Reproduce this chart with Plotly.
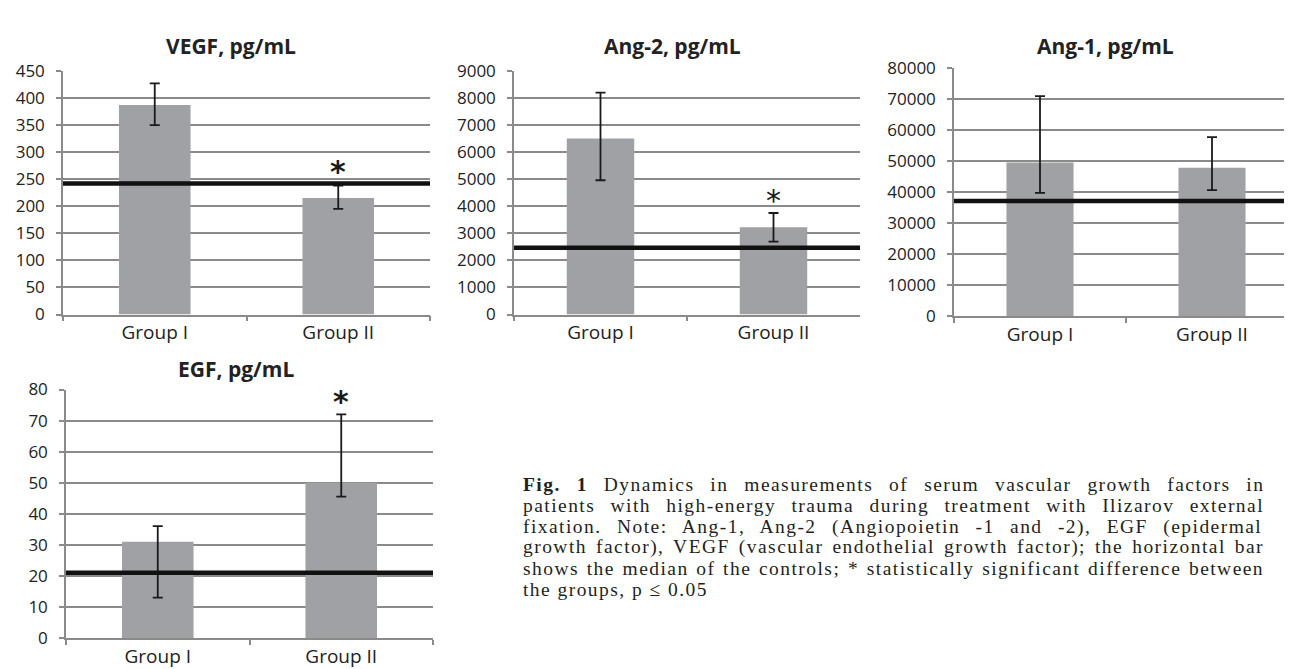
import plotly.graph_objects as go

W, H = 1292, 669

# ---------------- data ----------------
categories = ["Group I", "Group II"]

vegf_values = [387, 215]
vegf_upper = [427, 238]
vegf_lower = [350, 195]
vegf_median = 242

ang2_values = [6500, 3220]
ang2_upper = [8200, 3750]
ang2_lower = [4960, 2690]
ang2_median = 2470

ang1_values = [49600, 47900]
ang1_upper = [71000, 57800]
ang1_lower = [39800, 40700]
ang1_median = 37200

egf_values = [31, 50]
egf_upper = [36, 72]
egf_lower = [13, 45.5]
egf_median = 21

titles = ["VEGF, pg/mL", "Ang-2, pg/mL", "Ang-1, pg/mL", "EGF, pg/mL"]
y_ranges = [[0, 450], [0, 9000], [0, 80000], [0, 80]]
y_dticks = [50, 1000, 10000, 10]
# significance marks: (category, y-position of the asterisk)
asterisks = [("Group II", 276), ("Group II", 4450), None, ("Group II", 78)]

caption_lines = [
    "<b>Fig. 1</b> Dynamics in measurements of serum vascular growth factors in",
    "patients with high-energy trauma during treatment with Ilizarov external",
    "fixation. Note: Ang-1, Ang-2 (Angiopoietin -1 and -2), EGF (epidermal",
    "growth factor), VEGF (vascular endothelial growth factor); the horizontal bar",
    "shows the median of the controls; * statistically significant difference between",
    "the groups, p \u2264 0.05",
]

panels = [
    (vegf_values, vegf_upper, vegf_lower, vegf_median),
    (ang2_values, ang2_upper, ang2_lower, ang2_median),
    (ang1_values, ang1_upper, ang1_lower, ang1_median),
    (egf_values, egf_upper, egf_lower, egf_median),
]

# ---------------- layout geometry (pixels) ----------------
boxes = [  # x0, x1, ytop, ybottom
    (55, 422, 52.7, 305),
    (506, 852, 52.7, 305),
    (946, 1290, 50, 306.7),
    (58, 425, 382.7, 640),
]
title_pos = [(223, 27), (664, 27), (1097, 27), (228, 361)]

def px(x):
    return x / W

def py(y):
    return 1 - y / H

BAR = "#a0a1a5"
GRID = "#8a8a8a"
TXT = "#222222"

fig = go.Figure()
layout = dict(
    width=W, height=H, margin=dict(l=0, r=0, t=0, b=0),
    paper_bgcolor="white", plot_bgcolor="white", showlegend=False,
    shapes=[], annotations=[],
)

for i, ((vals, up, lo, med), box) in enumerate(zip(panels, boxes)):
    n = "" if i == 0 else str(i + 1)
    xa, ya = "x" + n, "y" + n
    fig.add_trace(go.Bar(
        x=categories, y=vals, xaxis=xa, yaxis=ya, width=0.39,
        marker=dict(color=BAR, line=dict(width=0)),
        error_y=dict(type="data", symmetric=False,
                     array=[u - v for u, v in zip(up, vals)],
                     arrayminus=[v - l for v, l in zip(vals, lo)],
                     color="#1a1a1a", thickness=1.8, width=5),
        hoverinfo="skip",
    ))
    x0, x1, yt, yb = box
    layout["xaxis" + n] = dict(
        domain=[px(x0), px(x1)], anchor=ya, type="category",
        range=[-0.5, 1.5], showline=True, linecolor=GRID, linewidth=1.5,
        ticks="outside", tickson="boundaries", ticklen=5, tickcolor=GRID,
        tickwidth=1.5, showgrid=False, zeroline=False,
        tickfont=dict(family="Open Sans", size=19, color=TXT),
        fixedrange=True,
    )
    layout["yaxis" + n] = dict(
        domain=[py(yb), py(yt)], anchor=xa, range=y_ranges[i],
        dtick=y_dticks[i], tick0=0, tickformat="d",
        showline=True, linecolor=GRID, linewidth=1.5,
        ticks="outside", ticklen=5, tickcolor=GRID, tickwidth=1.5,
        showgrid=True, gridcolor=GRID, gridwidth=1.5, zeroline=False,
        tickfont=dict(family="Open Sans", size=17, color=TXT),
        ticklabelstandoff=8, fixedrange=True,
    )
    # median of controls
    layout["shapes"].append(dict(
        type="line", xref=xa + " domain", yref=ya, x0=0, x1=1, y0=med, y1=med,
        line=dict(color="#111111", width=4.5), layer="above",
    ))
    # title
    tx, ty = title_pos[i]
    layout["annotations"].append(dict(
        xref="paper", yref="paper", x=px(tx), y=py(ty), xanchor="center",
        yanchor="middle", showarrow=False, text="<b>" + titles[i] + "</b>",
        font=dict(family="Open Sans", size=21, color=TXT),
    ))
    if asterisks[i] is not None:
        cat, yv = asterisks[i]
        bold = i != 1
        layout["annotations"].append(dict(
            xref=xa, yref=ya, x=cat, y=yv, xanchor="center", yanchor="middle",
            showarrow=False, yshift=-6,
            text=("<b>*</b>" if bold else "*"),
            font=dict(family="DejaVu Sans", size=30, color="#1a1a1a"),
        ))

# ---------------- caption (justified via word-spacing) ----------------
TIMES = {
    " ": 250, "!": 333, "(": 333, ")": 333, "*": 500, ",": 250, "-": 333,
    ".": 250, "/": 278, ":": 278, ";": 278, "\u2264": 549,
    "A": 722, "B": 667, "C": 667, "D": 722, "E": 611, "F": 556, "G": 722,
    "H": 722, "I": 333, "J": 389, "K": 722, "L": 611, "M": 889, "N": 722,
    "O": 722, "P": 556, "Q": 722, "R": 667, "S": 556, "T": 611, "U": 722,
    "V": 722, "W": 944, "X": 722, "Y": 722, "Z": 611,
    "a": 444, "b": 500, "c": 444, "d": 500, "e": 444, "f": 333, "g": 500,
    "h": 500, "i": 278, "j": 278, "k": 500, "l": 278, "m": 778, "n": 500,
    "o": 500, "p": 500, "q": 500, "r": 333, "s": 389, "t": 278, "u": 500,
    "v": 500, "w": 722, "x": 500, "y": 500, "z": 444,
}
for d in "0123456789":
    TIMES[d] = 500
BOLD_FIX = {"F": 611}

CAP_SIZE = 19.5
LETTER_SP = 1.45
CAP_LEFT, CAP_RIGHT = 513, 1253
CAP_BASE0, CAP_STEP = 488, 21.6

def natural_width(s):
    bold = False
    w = 0.0
    i = 0
    while i < len(s):
        if s.startswith("<b>", i):
            bold = True; i += 3; continue
        if s.startswith("</b>", i):
            bold = False; i += 4; continue
        c = s[i]
        cw = TIMES.get(c, 500)
        if bold and c in BOLD_FIX:
            cw = BOLD_FIX[c]
        w += cw * CAP_SIZE / 1000.0 + LETTER_SP
        i += 1
    return w - LETTER_SP

for k, line in enumerate(caption_lines):
    justify = k < len(caption_lines) - 1
    style = "letter-spacing:%.2fpx" % LETTER_SP
    if justify:
        nsp = line.replace("<b>", "").replace("</b>", "").count(" ")
        ws = (CAP_RIGHT - CAP_LEFT - natural_width(line)) / nsp
        style += ";word-spacing:%.2fpx" % ws
    base = CAP_BASE0 + CAP_STEP * k
    cy = base - (0.891 - 0.216) / 2 * CAP_SIZE
    layout["annotations"].append(dict(
        xref="paper", yref="paper", x=px(CAP_LEFT), y=py(cy),
        xanchor="left", yanchor="middle", showarrow=False,
        text='<span style="%s">%s</span>' % (style, line),
        font=dict(family="Liberation Serif", size=CAP_SIZE, color="#231f20"),
    ))

fig.update_layout(**layout)
fig.write_html("out.html")
